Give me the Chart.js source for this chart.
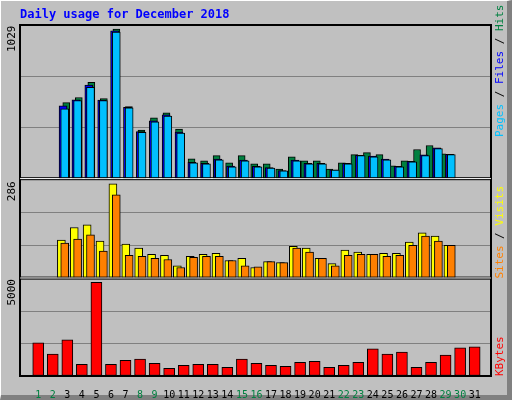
<!DOCTYPE html>
<html>
<head>
<script src="https://cdn.jsdelivr.net/npm/chart.js@4"></script>
<style>
body { margin: 0; background: #c0c0c0; }
#wrap { position: relative; width: 512px; height: 400px; box-sizing: border-box;
  border-top: 1px solid #fff; border-left: 1px solid #fff; border-right: 5px solid #808080; border-bottom: 5px solid #808080; }
canvas { position: absolute; left: -1px; top: -1px; }
</style>
</head>
<body>
<div id="wrap"><canvas id="c" width="512" height="400"></canvas></div>
<script>
const days = Array.from({ length: 31 }, (x, i) => i + 1);
const weekend = [1, 2, 8, 9, 15, 16, 22, 23, 29, 30];
const hits = [511, 545, 647, 538, 1002, 484, 327, 409, 443, 334, 136, 123, 157, 109, 157, 102, 102, 68, 150, 123, 123, 68, 109, 164, 177, 164, 89, 123, 198, 225, 170];
const files = [490, 530, 628, 528, 990, 480, 318, 390, 430, 315, 112, 106, 135, 88, 128, 86, 78, 58, 128, 106, 106, 63, 106, 160, 154, 134, 86, 120, 162, 210, 166];
const pages = [470, 525, 613, 525, 981, 477, 313, 382, 422, 307, 109, 102, 129, 82, 123, 82, 75, 55, 123, 102, 102, 61, 102, 157, 150, 129, 82, 116, 157, 204, 164];
const visits = [111, 147, 155, 108, 273, 99, 88, 70, 67, 37, 64, 70, 73, 52, 58, 32, 49, 46, 93, 88, 58, 43, 82, 76, 70, 73, 73, 105, 132, 122, 96];
const sites = [102, 114, 126, 79, 241, 67, 64, 58, 55, 32, 61, 64, 64, 52, 37, 34, 49, 46, 88, 76, 58, 37, 67, 70, 70, 64, 67, 96, 122, 108, 96];
const kbytes = [1705, 1126, 1863, 600, 4810, 600, 810, 863, 653, 390, 547, 600, 600, 442, 863, 653, 547, 495, 705, 758, 442, 547, 705, 1389, 1126, 1232, 442, 705, 1074, 1442, 1495];
const maxHits = 1029, maxVisits = 286, maxKB = 5000;

const xmin = 0.27, xmax = 31.6;
const pts = (arr) => arr.map((v, i) => ({ x: days[i], y: v }));
const bar = (label, arr, color, x, y, w) => ({
  label, data: pts(arr), backgroundColor: color, borderColor: '#000', borderWidth: 1,
  borderSkipped: false, xAxisID: x, yAxisID: y, barThickness: w, grouped: false
});
const shifted = (d) => ({ type: 'linear', display: false, min: xmin - d, max: xmax - d });
const yAxis = (max, weight) => ({
  type: 'linear', stack: 'v', stackWeight: weight, min: 0, max,
  ticks: { display: false },
  afterBuildTicks: (s) => { s.ticks = [0, 1, 2, 3].map((k) => ({ value: max * k / 3 })); },
  grid: { color: '#808080', drawTicks: false }, border: { color: '#000' },
  afterFit: (s) => { s.width = 0; }
});

const mono = '"DejaVu Sans Mono", monospace';
const vtext = (ctx, x, yBottom, parts) => {
  ctx.save();
  ctx.translate(x, yBottom);
  ctx.rotate(-Math.PI / 2);
  ctx.font = '11px ' + mono;
  ctx.textBaseline = 'middle';
  let off = 0;
  parts.forEach(([t, c]) => { ctx.fillStyle = c; ctx.fillText(t, off, 0); off += ctx.measureText(t).width; });
  ctx.restore();
};

const frame = {
  id: 'frame',
  afterDraw(chart) {
    const ctx = chart.ctx, a = chart.chartArea;
    ctx.save();
    ctx.font = 'bold 12px ' + mono;
    ctx.fillStyle = '#0000ff';
    ctx.textBaseline = 'middle';
    ctx.fillText('Daily usage for December 2018', 20, 15);
    ctx.strokeStyle = '#000';
    ctx.lineWidth = 2;
    ctx.strokeRect(a.left, a.top, a.right - a.left, a.bottom - a.top);
    ['y2', 'y3'].forEach((id) => {
      const t = chart.scales[id].top;
      ctx.lineWidth = 1;
      ctx.strokeStyle = '#000';
      ctx.beginPath(); ctx.moveTo(a.left, t - 1.5); ctx.lineTo(a.right, t - 1.5); ctx.stroke();
      ctx.strokeStyle = '#fff';
      ctx.beginPath(); ctx.moveTo(a.left, t - 0.5); ctx.lineTo(a.right, t - 0.5); ctx.stroke();
      ctx.strokeStyle = '#000';
      ctx.beginPath(); ctx.moveTo(a.left, t + 0.5); ctx.lineTo(a.right, t + 0.5); ctx.stroke();
    });
    ctx.restore();
    const y1 = chart.scales.y1, y2 = chart.scales.y2, y3 = chart.scales.y3;
    vtext(ctx, 12, y1.top + 27, [[String(maxHits), '#000']]);
    vtext(ctx, 12, y2.top + 22, [[String(maxVisits), '#000']]);
    vtext(ctx, 12, y3.top + 27, [[String(maxKB), '#000']]);
    vtext(ctx, 500, y1.top + 112, [['Pages', '#00c0ff'], [' / ', '#000'], ['Files', '#0000ff'], [' / ', '#000'], ['Hits', '#008040']]);
    vtext(ctx, 500, y2.bottom, [['Sites', '#ff8000'], [' / ', '#000'], ['Visits', '#ffff00']]);
    vtext(ctx, 500, y3.bottom, [['KBytes', '#ff0000']]);
  }
};

new Chart(document.getElementById('c'), {
  type: 'bar',
  data: {
    datasets: [
      bar('Pages', pages, '#00c0ff', 'xp', 'y1', 8),
      bar('Files', files, '#0000ff', 'xf', 'y1', 8),
      bar('Hits', hits, '#008040', 'xh', 'y1', 7),
      bar('Sites', sites, '#ff8000', 'xp', 'y2', 8),
      bar('Visits', visits, '#ffff00', 'xv', 'y2', 8),
      bar('KBytes', kbytes, '#ff0000', 'x', 'y3', 11)
    ]
  },
  options: {
    responsive: false,
    animation: false,
    layout: { padding: { left: 20, top: 25, right: 21, bottom: 0 } },
    plugins: { legend: { display: false }, tooltip: { enabled: false } },
    scales: {
      y3: yAxis(maxKB, 96),
      y2: yAxis(maxVisits, 98),
      y1: yAxis(maxHits, 152),
      x: {
        type: 'linear', min: xmin, max: xmax,
        afterBuildTicks: (s) => { s.ticks = days.map((d) => ({ value: d })); },
        afterFit: (s) => { s.height = 24; },
        grid: { display: false }, border: { color: '#000', width: 2 },
        ticks: {
          autoSkip: false, maxRotation: 0, padding: 5,
          font: { family: mono, size: 10 },
          color: (c) => weekend.includes(c.tick.value) ? '#008040' : '#000',
          callback: (v) => String(v)
        }
      },
      xh: shifted(-0.17),
      xf: shifted(0),
      xp: shifted(0.13),
      xv: shifted(-0.13)
    }
  },
  plugins: [frame]
});
</script>
</body>
</html>
